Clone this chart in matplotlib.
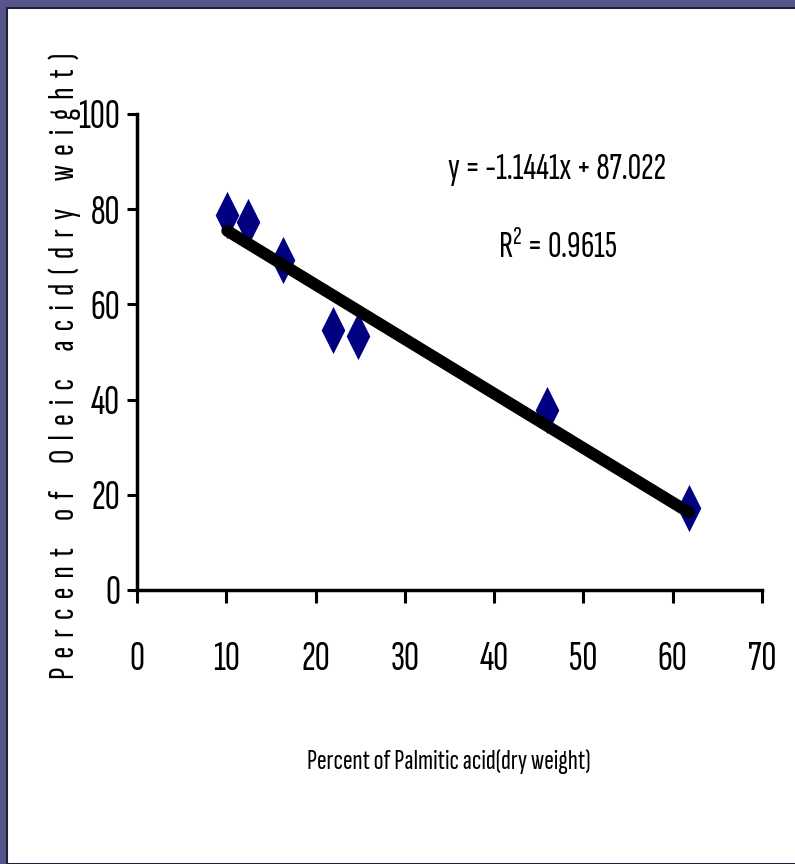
import matplotlib
matplotlib.use("Agg")
import matplotlib.pyplot as plt
from matplotlib.patches import Rectangle
from matplotlib.path import Path
from matplotlib import font_manager
import numpy as np

# data
palmitic = [10.1, 12.4, 16.3, 21.9, 24.8, 45.9, 61.8]
oleic = [78.8, 77.4, 69.3, 54.6, 53.4, 37.8, 17.2]
slope = -1.1441
intercept = 87.022
r_squared = 0.9615
x_ticks = [0, 10, 20, 30, 40, 50, 60, 70]
y_ticks = [0, 20, 40, 60, 80, 100]

# the original uses a very narrow Arial, take the narrowest one around
names = set(f.name for f in font_manager.fontManager.ttflist)
narrow = 'Liberation Sans'
for cand in ['Sofia Sans Extra Condensed', 'Pathway Gothic One', 'PT Sans Narrow', 'Archivo Narrow']:
    if cand in names:
        narrow = cand
        break
plt.rcParams['font.family'] = [narrow, 'DejaVu Sans']
plt.rcParams['mathtext.default'] = 'regular'

W, H = 795, 864
fig = plt.figure(figsize=(W / 100, H / 100), dpi=100)
fig.patch.set_facecolor('#55558a')
# white slide panel
fig.patches.append(Rectangle((7 / W, 0), 1, 1 - 8 / H, transform=fig.transFigure,
                             facecolor='white', edgecolor='#20203a', linewidth=1.5, zorder=-5))

ax = fig.add_axes([137 / W, 1 - 590 / H, (762 - 137) / W, (590 - 114) / H])
ax.set_facecolor('none')

# tall thin diamond marker
diamond = Path([(0, 1), (0.5, 0), (0, -1), (-0.5, 0), (0, 1)],
               [Path.MOVETO, Path.LINETO, Path.LINETO, Path.LINETO, Path.CLOSEPOLY])
ax.plot(palmitic, oleic, linestyle='none', marker=diamond, markersize=34,
        color='#000080', markeredgewidth=0, zorder=3, clip_on=False)

xs = np.array([min(palmitic), max(palmitic)])
ax.plot(xs, slope * xs + intercept, color='black', linewidth=8.5,
        solid_capstyle='round', zorder=4)

ax.set_xlim(0, 70)
ax.set_ylim(0, 100)
ax.set_xticks(x_ticks)
ax.set_yticks(y_ticks)
ax.tick_params(axis='x', length=9, width=2.2, pad=28, labelsize=30)
ax.tick_params(axis='y', length=7, width=2.2, pad=5, labelsize=30)
for s in ['top', 'right']:
    ax.spines[s].set_visible(False)
for s in ['left', 'bottom']:
    ax.spines[s].set_linewidth(2.5)
    ax.spines[s].set_zorder(5)

ax.text(557 / W, 1 - 170 / H, 'y = -1.1441x + 87.022', transform=fig.transFigure,
        ha='center', va='center', fontsize=27)
ax.text(558 / W, 1 - 248 / H, 'R$^{2}$ = %.4f' % r_squared, transform=fig.transFigure,
        ha='center', va='center', fontsize=27)

fig.text(449 / W, 1 - 762 / H, 'Percent of Palmitic acid(dry weight)',
         ha='center', va='center', fontsize=21)
# letter-spaced y label, like the original
ylabel = 'Percent of Oleic acid(dry weight)'
spaced = '      '.join('  '.join(word) for word in ylabel.split(' '))
fig.text(65 / W, 1 - 366 / H, spaced,
         rotation=90, ha='center', va='center', fontsize=26)

fig.savefig('out.png', dpi=100, facecolor=fig.get_facecolor())
